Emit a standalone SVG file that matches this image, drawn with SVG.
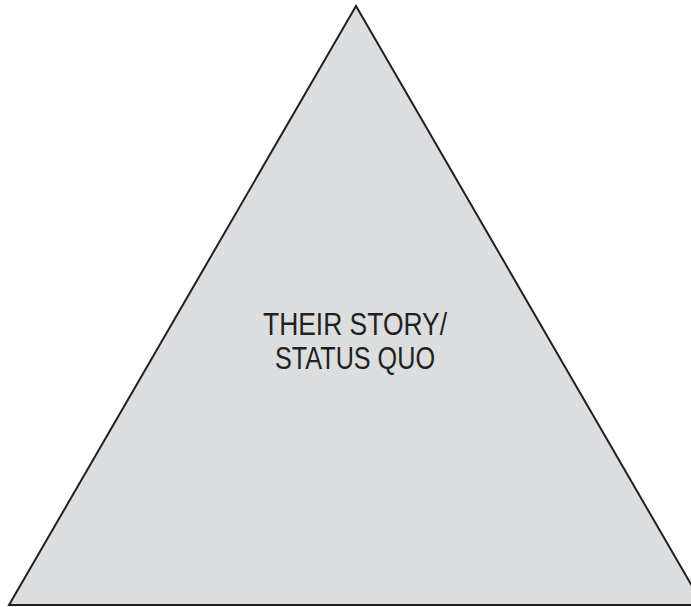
<svg xmlns="http://www.w3.org/2000/svg" width="691" height="607" viewBox="0 0 691 607">
<style>
.tri{fill:#dcdddf;stroke:#231f20;stroke-width:2;stroke-linejoin:miter}
.lbl{font-family:"Liberation Sans",Arial,sans-serif;font-size:31px;fill:#231f20;text-anchor:middle}
</style>
<rect width="691" height="607" fill="#ffffff"/>
<g id="triangle">
<polygon class="tri" points="356,6 9,605 703,605"/>
<text class="lbl" x="355" y="335" textLength="184" lengthAdjust="spacingAndGlyphs">THEIR STORY/</text>
<text class="lbl" x="355" y="369" textLength="160" lengthAdjust="spacingAndGlyphs">STATUS QUO</text>
</g>
</svg>
